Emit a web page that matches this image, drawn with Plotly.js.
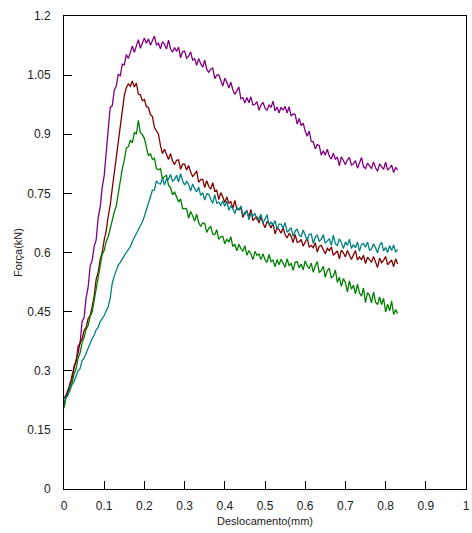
<!DOCTYPE html>
<html>
<head>
<meta charset="utf-8">
<script src="https://cdn.plot.ly/plotly-3.0.1.min.js"></script>
<style>html,body{margin:0;padding:0;background:#fff;}#chart{width:472px;height:533px;}</style>
</head>
<body>
<div id="chart"></div>
<script>
const deslocamento = [0,0.005,0.01,0.015,0.02,0.025,0.03,0.035,0.04,0.045,0.05,0.055,0.06,0.065,0.07,0.075,0.08,0.085,0.09,0.095,
0.1,0.105,0.11,0.115,0.12,0.125,0.13,0.135,0.14,0.145,0.15,0.155,0.16,0.165,0.17,0.175,0.18,0.185,0.19,0.195,
0.2,0.205,0.21,0.215,0.22,0.225,0.23,0.235,0.24,0.245,0.25,0.255,0.26,0.265,0.27,0.275,0.28,0.285,0.29,0.295,
0.3,0.305,0.31,0.315,0.32,0.325,0.33,0.335,0.34,0.345,0.35,0.355,0.36,0.365,0.37,0.375,0.38,0.385,0.39,0.395,
0.4,0.405,0.41,0.415,0.42,0.425,0.43,0.435,0.44,0.445,0.45,0.455,0.46,0.465,0.47,0.475,0.48,0.485,0.49,0.495,
0.5,0.505,0.51,0.515,0.52,0.525,0.53,0.535,0.54,0.545,0.55,0.555,0.56,0.565,0.57,0.575,0.58,0.585,0.59,0.595,
0.6,0.605,0.61,0.615,0.62,0.625,0.63,0.635,0.64,0.645,0.65,0.655,0.66,0.665,0.67,0.675,0.68,0.685,0.69,0.695,
0.7,0.705,0.71,0.715,0.72,0.725,0.73,0.735,0.74,0.745,0.75,0.755,0.76,0.765,0.77,0.775,0.78,0.785,0.79,0.795,
0.8,0.805,0.81,0.815,0.82,0.825,0.83];

const forcaRoxo = [
0.21,0.235,0.245,0.268,0.275,0.312,0.322,0.362,0.37,0.425,
0.435,0.485,0.512,0.565,0.58,0.615,0.632,0.688,0.715,0.765,
0.795,0.865,0.912,0.968,0.972,1.012,1.022,1.052,1.048,1.078,
1.076,1.102,1.092,1.107,1.124,1.108,1.125,1.14,1.118,1.134,
1.144,1.131,1.142,1.126,1.137,1.149,1.126,1.131,1.117,1.135,
1.128,1.116,1.139,1.117,1.108,1.12,1.11,1.121,1.094,1.11,
1.111,1.093,1.098,1.109,1.088,1.092,1.075,1.092,1.079,1.07,
1.088,1.065,1.057,1.065,1.068,1.041,1.05,1.051,1.037,1.022,
1.042,1.032,1.017,1.032,1.013,1.001,1.01,1.02,0.99,0.993,
0.979,0.993,0.98,0.995,0.974,0.976,0.983,0.961,0.974,0.981,
0.966,0.961,0.974,0.968,0.984,0.959,0.969,0.954,0.969,0.961,
0.971,0.954,0.97,0.946,0.952,0.95,0.926,0.94,0.922,0.928,
0.908,0.895,0.908,0.882,0.881,0.863,0.874,0.871,0.847,0.858,
0.847,0.862,0.844,0.837,0.852,0.837,0.842,0.82,0.843,0.834,
0.823,0.835,0.841,0.822,0.825,0.833,0.814,0.827,0.841,0.818,
0.813,0.827,0.821,0.813,0.83,0.815,0.806,0.825,0.818,0.811,
0.829,0.809,0.814,0.822,0.803,0.816,0.809];

const forcaVermelho = [
0.23,0.238,0.252,0.265,0.288,0.305,0.328,0.345,0.372,0.38,
0.402,0.41,0.432,0.44,0.462,0.49,0.532,0.55,0.582,0.6,
0.632,0.655,0.692,0.72,0.762,0.8,0.842,0.88,0.922,0.965,
0.998,1.018,1.028,1.022,1.035,1.02,1.03,1.002,1.0,0.985,
0.988,0.97,0.968,0.95,0.945,0.917,0.908,0.9,0.871,0.851,
0.862,0.849,0.836,0.851,0.832,0.823,0.834,0.835,0.811,0.824,
0.824,0.809,0.821,0.804,0.793,0.799,0.807,0.778,0.785,0.786,
0.765,0.782,0.768,0.761,0.777,0.756,0.758,0.734,0.752,0.741,
0.727,0.741,0.725,0.729,0.712,0.732,0.71,0.709,0.713,0.689,
0.702,0.703,0.691,0.709,0.681,0.687,0.69,0.675,0.691,0.675,
0.663,0.678,0.673,0.662,0.674,0.647,0.664,0.658,0.649,0.663,
0.645,0.637,0.649,0.641,0.625,0.646,0.626,0.627,0.633,0.616,
0.627,0.637,0.613,0.618,0.612,0.625,0.601,0.616,0.618,0.605,
0.597,0.611,0.605,0.614,0.593,0.598,0.604,0.584,0.606,0.599,
0.589,0.605,0.592,0.582,0.594,0.605,0.581,0.589,0.582,0.593,
0.572,0.588,0.582,0.575,0.59,0.577,0.562,0.586,0.574,0.58,
0.59,0.569,0.575,0.581,0.564,0.584,0.571];

const forcaVerde = [
0.205,0.232,0.238,0.26,0.268,0.292,0.305,0.332,0.345,0.372,
0.385,0.405,0.415,0.438,0.448,0.478,0.5,0.54,0.565,0.595,
0.605,0.628,0.64,0.662,0.678,0.702,0.718,0.752,0.775,0.812,
0.835,0.865,0.868,0.885,0.878,0.905,0.9,0.935,0.904,0.899,
0.889,0.864,0.845,0.851,0.836,0.839,0.813,0.81,0.813,0.786,
0.793,0.796,0.77,0.765,0.746,0.754,0.742,0.728,0.736,0.711,
0.712,0.711,0.687,0.704,0.693,0.68,0.697,0.676,0.666,0.675,
0.674,0.651,0.661,0.666,0.647,0.645,0.658,0.633,0.64,0.641,
0.622,0.634,0.626,0.64,0.615,0.621,0.604,0.621,0.61,0.603,
0.617,0.593,0.605,0.596,0.582,0.603,0.593,0.596,0.582,0.597,
0.582,0.575,0.595,0.577,0.581,0.564,0.582,0.569,0.583,0.571,
0.563,0.584,0.567,0.572,0.555,0.575,0.577,0.561,0.571,0.556,
0.579,0.566,0.559,0.573,0.55,0.566,0.577,0.55,0.554,0.565,
0.537,0.554,0.56,0.536,0.54,0.556,0.524,0.537,0.514,0.534,
0.524,0.5,0.528,0.507,0.517,0.495,0.52,0.498,0.489,0.51,
0.473,0.498,0.491,0.472,0.5,0.474,0.468,0.487,0.468,0.484,
0.449,0.469,0.452,0.477,0.443,0.455,0.445];

const forcaAzul = [
0.222,0.232,0.241,0.25,0.265,0.272,0.286,0.3,0.305,0.326,
0.332,0.345,0.358,0.368,0.382,0.39,0.404,0.41,0.425,0.432,
0.44,0.452,0.462,0.485,0.522,0.54,0.552,0.568,0.575,0.582,
0.592,0.6,0.608,0.615,0.628,0.638,0.645,0.658,0.668,0.678,
0.692,0.708,0.722,0.738,0.758,0.758,0.782,0.775,0.774,0.789,
0.771,0.787,0.786,0.798,0.781,0.785,0.796,0.779,0.8,0.782,
0.771,0.78,0.773,0.756,0.774,0.762,0.754,0.766,0.745,0.752,
0.733,0.749,0.748,0.735,0.725,0.747,0.725,0.728,0.719,0.731,
0.717,0.73,0.707,0.718,0.711,0.699,0.715,0.708,0.718,0.696,
0.696,0.708,0.683,0.7,0.693,0.699,0.683,0.686,0.697,0.674,
0.685,0.696,0.67,0.677,0.669,0.681,0.658,0.672,0.672,0.661,
0.676,0.651,0.657,0.663,0.641,0.654,0.66,0.644,0.64,0.657,
0.644,0.631,0.646,0.647,0.623,0.639,0.644,0.628,0.634,0.645,
0.623,0.628,0.635,0.618,0.644,0.622,0.618,0.635,0.625,0.61,
0.627,0.618,0.634,0.61,0.62,0.612,0.627,0.603,0.62,0.623,
0.613,0.627,0.606,0.609,0.622,0.612,0.599,0.618,0.626,0.604,
0.613,0.6,0.617,0.605,0.619,0.601,0.608];

const xTicks = [0,0.1,0.2,0.3,0.4,0.5,0.6,0.7,0.8,0.9,1];
const xTickText = ['0','0.1','0.2','0.3','0.4','0.5','0.6','0.7','0.8','0.9','1'];
const yTicks = [0,0.15,0.3,0.45,0.6,0.75,0.9,1.05,1.2];
const yTickText = ['0','0.15','0.3','0.45','0.6','0.75','0.9','1.05','1.2'];

const series = [
  {y: forcaRoxo, color: '#800080'},
  {y: forcaVermelho, color: '#800000'},
  {y: forcaVerde, color: '#008000'},
  {y: forcaAzul, color: '#008080'}
];

const traces = series.map(s => ({
  x: deslocamento, y: s.y, type: 'scatter', mode: 'lines',
  line: {color: s.color, width: 1.3}, hoverinfo: 'skip'
}));

const fam = 'Liberation Sans, Arial, sans-serif';

const layout = {
  width: 472, height: 533,
  margin: {l: 64, r: 6, t: 16, b: 44},
  paper_bgcolor: '#fff', plot_bgcolor: '#fff',
  showlegend: false,
  font: {family: fam, size: 12, color: '#222'},
  xaxis: {
    range: [0, 1], tickvals: xTicks, ticktext: xTickText,
    ticks: 'inside', ticklen: 8, tickwidth: 1, tickcolor: '#000',
    showline: true, linecolor: '#000', linewidth: 1, mirror: true,
    showgrid: false, zeroline: false,
    ticklabelstandoff: 6,
    tickfont: {family: fam, size: 12, color: '#222'},
    title: {text: 'Deslocamento(mm)', font: {family: fam, size: 11, color: '#222'}, standoff: 4}
  },
  yaxis: {
    range: [0, 1.2], tickvals: yTicks, ticktext: yTickText,
    ticks: 'inside', ticklen: 8, tickwidth: 1, tickcolor: '#000',
    showline: true, linecolor: '#000', linewidth: 1, mirror: true,
    showgrid: false, zeroline: false,
    ticklabelstandoff: 10,
    tickfont: {family: fam, size: 12, color: '#222'},
    title: {text: 'Força(kN)', font: {family: fam, size: 11, color: '#222'}, standoff: 2}
  }
};

Plotly.newPlot('chart', traces, layout, {displayModeBar: false, staticPlot: true});
</script>
</body>
</html>
